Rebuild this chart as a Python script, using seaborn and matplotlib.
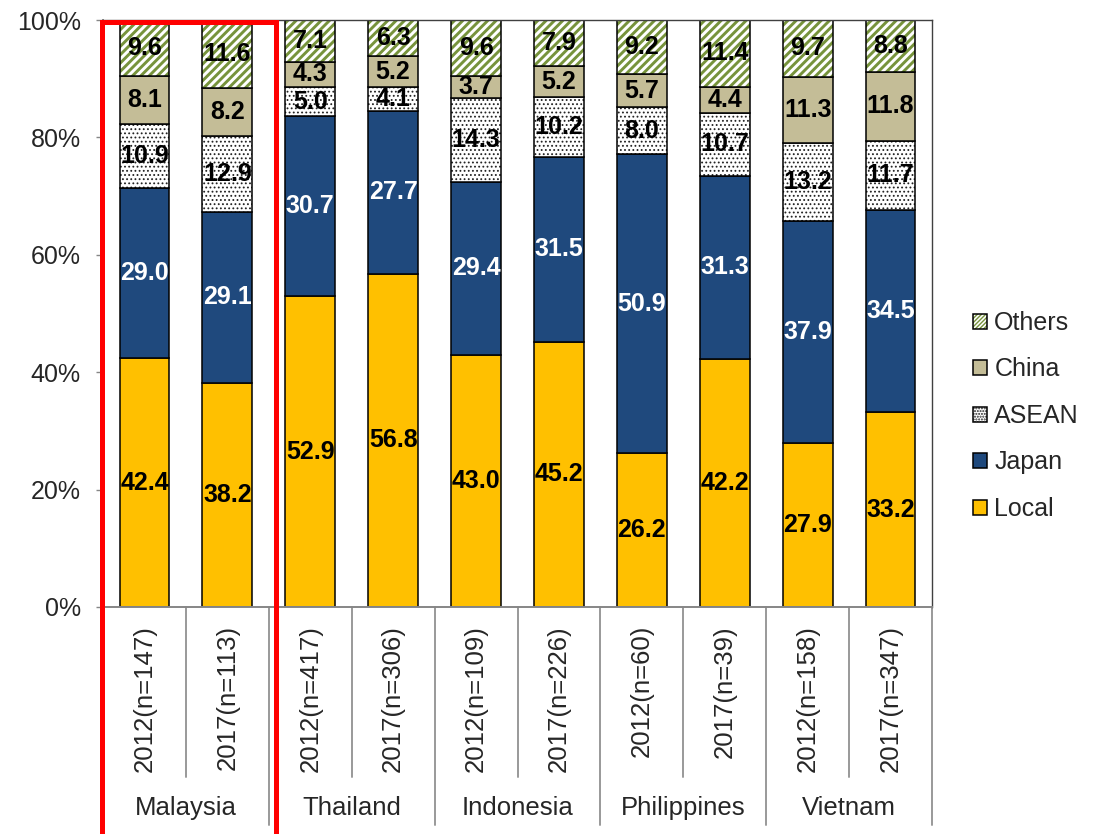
import matplotlib
matplotlib.use("Agg")
import matplotlib.pyplot as plt
import seaborn as sns
import numpy as np
import pandas as pd
from matplotlib.patches import Rectangle, Patch
from matplotlib.legend_handler import HandlerTuple

# ---------------- data ----------------
countries = ["Malaysia", "Thailand", "Indonesia", "Philippines", "Vietnam"]
bar_labels = ["2012(n=147)", "2017(n=113)", "2012(n=417)", "2017(n=306)",
              "2012(n=109)", "2017(n=226)", "2012(n=60)", "2017(n=39)",
              "2012(n=158)", "2017(n=347)"]
local = [42.4, 38.2, 52.9, 56.8, 43.0, 45.2, 26.2, 42.2, 27.9, 33.2]
japan = [29.0, 29.1, 30.7, 27.7, 29.4, 31.5, 50.9, 31.3, 37.9, 34.5]
asean = [10.9, 12.9, 5.0, 4.1, 14.3, 10.2, 8.0, 10.7, 13.2, 11.7]
china = [8.1, 8.2, 4.3, 5.2, 3.7, 5.2, 5.7, 4.4, 11.3, 11.8]
others = [9.6, 11.6, 7.1, 6.3, 9.6, 7.9, 9.2, 11.4, 9.7, 8.8]
series_names = ["Local", "Japan", "ASEAN", "China", "Others"]
y_ticks = [0, 20, 40, 60, 80, 100]
y_tick_labels = ["0%", "20%", "40%", "60%", "80%", "100%"]

# ---------------- style ----------------
sns.set_style("white")
plt.rcParams["font.family"] = ["Liberation Sans", "DejaVu Sans"]

W, H = 1097, 834
fig = plt.figure(figsize=(W / 100, H / 100), dpi=100)
ax = fig.add_axes([103 / W, 1 - 607 / H, (932 - 103) / W, (607 - 20) / H])

series = [local, japan, asean, china, others]
styles = {
    "Local": dict(face="#FFC000", hatch=None, hcolor=None, txt="black"),
    "Japan": dict(face="#1F497D", hatch=None, hcolor=None, txt="white"),
    "ASEAN": dict(face="white", hatch="....", lhatch="......", hcolor="#222222", txt="black", hlw=0.8),
    "China": dict(face="#C4BD97", hatch=None, hcolor=None, txt="black"),
    "Others": dict(face="white", hatch="////", lhatch="////////", hcolor="#77933C", txt="black", hlw=2.1),
}

bar_w = 0.6
edge_lw = 1.1
bottom = np.zeros(len(bar_labels))
handles = {}
for name, vals in zip(series_names, series):
    st = styles[name]
    vals = np.array(vals, dtype=float)
    df = pd.DataFrame({"bar": bar_labels, "value": vals})
    if st["hatch"] is None:
        sns.barplot(data=df, x="bar", y="value", order=bar_labels, bottom=bottom,
                    color=st["face"], saturation=1, width=bar_w, errorbar=None,
                    edgecolor="black", linewidth=edge_lw, ax=ax)
        cont = ax.containers[-1]
        handles[name] = Patch(facecolor=st["face"], edgecolor="black", linewidth=edge_lw)
    else:
        with plt.rc_context({"hatch.linewidth": st["hlw"]}):
            sns.barplot(data=df, x="bar", y="value", order=bar_labels, bottom=bottom,
                        color=st["face"], saturation=1, width=bar_w, errorbar=None,
                        edgecolor=st["hcolor"], linewidth=0, hatch=st["hatch"], ax=ax)
            hatch_cont = ax.containers[-1]
            for p in hatch_cont:
                if hasattr(p, "set_hatch_linewidth"):
                    p.set_hatch_linewidth(st["hlw"])
            hp = Patch(facecolor=st["face"], edgecolor=st["hcolor"], hatch=st["lhatch"], linewidth=0)
            if hasattr(hp, "set_hatch_linewidth"):
                hp.set_hatch_linewidth(st["hlw"] * 0.6)
        sns.barplot(data=df, x="bar", y="value", order=bar_labels, bottom=bottom,
                    color="black", fill=False, width=bar_w, errorbar=None,
                    linewidth=edge_lw, ax=ax)
        cont = ax.containers[-1]
        for p in cont:
            p.set_facecolor("none")
            p.set_edgecolor("black")
        handles[name] = (hp, Patch(facecolor="none", edgecolor="black", linewidth=edge_lw))
    ax.bar_label(cont, labels=[f"{v:.1f}" for v in vals], label_type="center",
                 color=st["txt"], fontsize=18, fontweight="bold")
    bottom = bottom + vals

# ---------------- axes ----------------
ax.set_xlim(-0.5, len(bar_labels) - 0.5)
ax.set_ylim(0, 100)
ax.set_yticks(y_ticks)
ax.set_yticklabels(y_tick_labels, fontsize=18)
ax.set_xlabel("")
ax.set_ylabel("")
ax.tick_params(axis="y", direction="out", length=5, width=1, color="#868686", pad=11, left=True)
ax.tick_params(axis="x", length=0, pad=13, labelsize=18.5)
for lbl in ax.get_xticklabels():
    lbl.set_rotation(90)
for s in ["left", "bottom"]:
    ax.spines[s].set_color("#868686")
    ax.spines[s].set_linewidth(1.4)
for s in ["top", "right"]:
    ax.spines[s].set_color("#404040")
    ax.spines[s].set_linewidth(1.0)

# category separators below the axis
trans = ax.get_xaxis_transform()
n = len(bar_labels)
for i in range(n + 1):
    xpos = i - 0.5
    is_group = (i % 2 == 0)
    ybot = -0.372 if is_group else -0.29
    ax.plot([xpos, xpos], [0, ybot], transform=trans, color="#999999",
            linewidth=1.4, clip_on=False, zorder=1)

# country labels
for g, c in enumerate(countries):
    ax.text(2 * g + 0.5, -0.342, c, transform=trans, ha="center", va="center",
            fontsize=18.5, clip_on=False)

# legend
order = ["Others", "China", "ASEAN", "Japan", "Local"]
fig.legend([handles[k] for k in order], order,
           handler_map={tuple: HandlerTuple(ndivide=1, pad=0)},
           loc="center left", bbox_to_anchor=(973 / W, 1 - 416 / H),
           frameon=False, fontsize=18, handlelength=0.55, handleheight=0.55,
           handletextpad=0.3, labelspacing=0.9, borderpad=0, borderaxespad=0)

# red highlight box around Malaysia
fig.patches.append(Rectangle((102 / W, -0.05), (276 - 102) / W, 0.05 + 1 - 22 / H,
                             transform=fig.transFigure, fill=False,
                             edgecolor="#FF0000", linewidth=3.6, zorder=10))

fig.savefig("out.png", dpi=100)
